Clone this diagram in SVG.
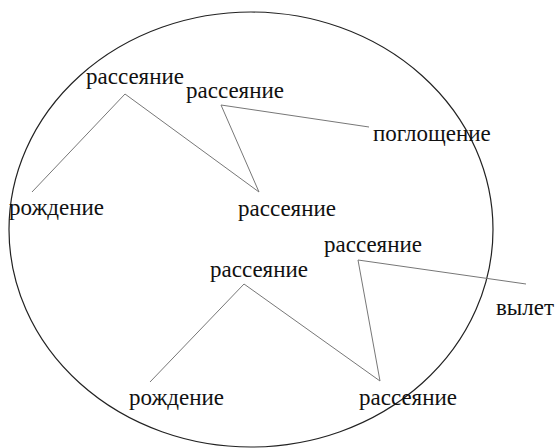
<svg xmlns="http://www.w3.org/2000/svg" width="557" height="448" viewBox="0 0 557 448">
<style>
.lbl{font-family:"Liberation Serif","Times New Roman",serif;font-size:23px;fill:#111}
.ln{stroke:#777;stroke-width:1;fill:none}
</style>
<rect width="557" height="448" fill="#fff"/>
<g id="boundary"><ellipse cx="251" cy="229.5" rx="242" ry="217.5" fill="none" stroke="#222" stroke-width="1.2"/></g>
<g id="connectors">
<polyline class="ln" points="32,192 125,94 259,192 221,105 369,127"/>
<polyline class="ln" points="150,382 244,284 380,381 358,260 526,284"/>
</g>
<g id="n1"><text class="lbl" x="86" y="84">рассеяние</text></g>
<g id="n2"><text class="lbl" x="186" y="98">рассеяние</text></g>
<g id="n3"><text class="lbl" x="373" y="141">поглощение</text></g>
<g id="n4"><text class="lbl" x="9" y="215">рождение</text></g>
<g id="n5"><text class="lbl" x="238" y="216">рассеяние</text></g>
<g id="n6"><text class="lbl" x="324" y="252">рассеяние</text></g>
<g id="n7"><text class="lbl" x="210" y="277">рассеяние</text></g>
<g id="n8"><text class="lbl" x="496" y="315">вылет</text></g>
<g id="n9"><text class="lbl" x="129" y="405">рождение</text></g>
<g id="n10"><text class="lbl" x="359" y="405">рассеяние</text></g>
</svg>
